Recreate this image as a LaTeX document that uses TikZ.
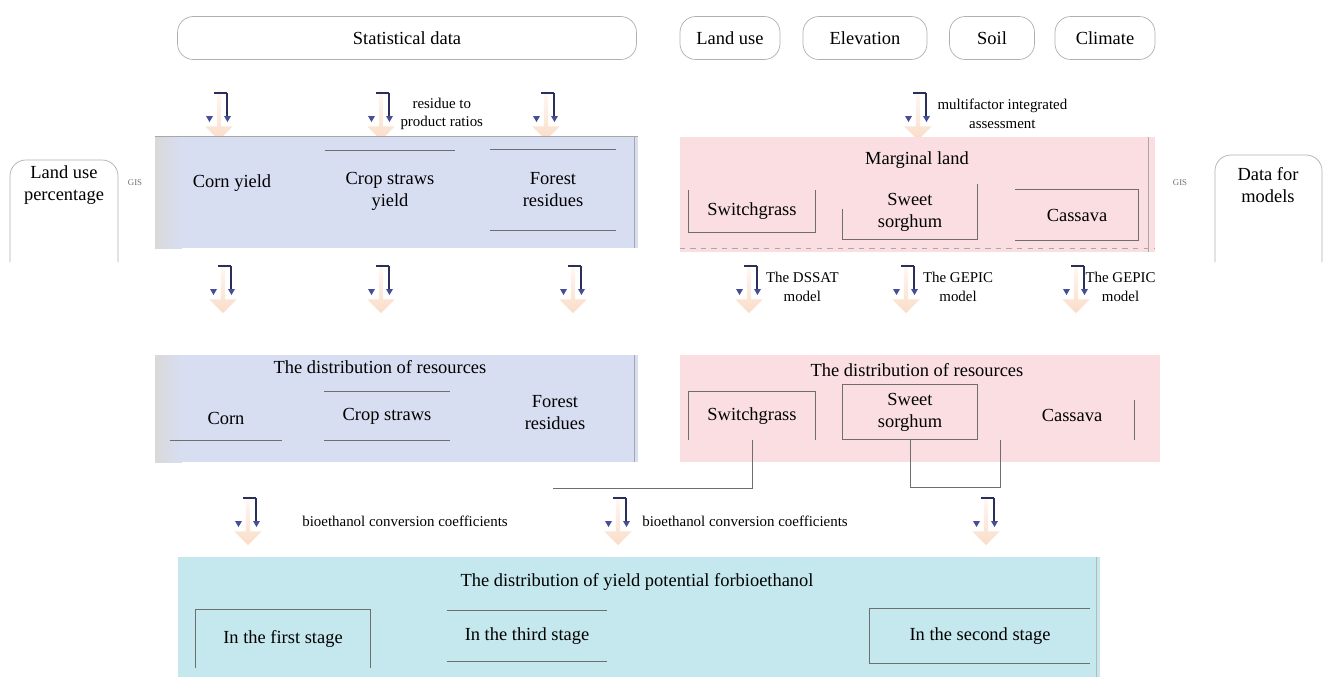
\documentclass[tikz,border=0pt]{standalone}
\usepackage{fontspec}
\setmainfont{Liberation Serif}
\definecolor{lineGray}{RGB}{110,110,110}
\definecolor{paleBlue}{RGB}{216,222,242}
\definecolor{palePink}{RGB}{250,222,226}
\definecolor{paleCyan}{RGB}{196,232,238}
\definecolor{peach}{RGB}{248,205,175}
\definecolor{markBlue}{RGB}{70,78,150}
\usetikzlibrary{shapes,arrows,positioning}

\begin{document}
\begin{tikzpicture}[
  x=0.02cm, y=-0.02cm,
  src/.style={
    draw=lineGray!55, rounded corners=9pt, minimum height=0.86cm,
    font=\fontsize{10.5}{12}\selectfont, inner sep=2pt
  },
  panel/.style={draw=none, inner sep=0pt},
  item/.style={align=center, font=\fontsize{10.5}{12.5}\selectfont, inner sep=2pt},
  note/.style={align=center, font=\fontsize{8.5}{10.5}\selectfont, inner sep=1pt},
  gis/.style={font=\fontsize{5}{6}\selectfont, text=lineGray},
  edge/.style={draw=lineGray, line width=0.5pt},
  flow/.style={
    single arrow, shape border rotate=270, draw=none, inner sep=0pt,
    minimum width=0.55cm, minimum height=1.0cm, single arrow head extend=0.04cm,
    top color=peach!10, bottom color=peach!70
  },
  flowdown/.pic={
    \node[flow] (-glyph) at (1,4) {};
    \draw[line width=1.3pt, markBlue!60!black] (-4,-17) -- (9,-17);
    \draw[line width=0.6pt, markBlue!60!black] (9,-17) -- (9,8);
    \fill[markBlue] (-12,6) -- (-5,6) -- (-8.5,12) -- cycle;
    \fill[markBlue] (6,6) -- (13,6) -- (9.5,12) -- cycle;
  }
]
  \useasboundingbox (0,0) rectangle (1326,677);

  % sources
  \node[src, minimum width=9.18cm] (stat) at (407,38) {Statistical data};
  \node[src, minimum width=2.0cm] (landuse) at (730,38) {Land use};
  \node[src, minimum width=2.48cm] (elev) at (865,38) {Elevation};
  \node[src, minimum width=1.7cm] (soil) at (992,38) {Soil};
  \node[src, minimum width=2.0cm] (climate) at (1105,38) {Climate};

  \draw[draw=lineGray!55, rounded corners=9pt] (10,262) -- (10,160) -- (118,160) -- (118,262);
  \node[item] (lup) at (64,185) {Land use\\percentage};
  \node[gis] (gisL) at (135,183) {GIS};
  \draw[draw=lineGray!55, rounded corners=9pt] (1215,262) -- (1215,155) -- (1322,155) -- (1322,262);
  \node[item] (dfm) at (1268,185) {Data for\\models};
  \node[gis] (gisR) at (1180,183) {GIS};

  % first arrows
  \pic (r1a) at (218,110) {flowdown};
  \pic (r1b) at (380,110) {flowdown};
  \pic (r1c) at (545,110) {flowdown};
  \pic (r1d) at (917,110) {flowdown};
  \node[note, right=0.3cm of r1b-glyph] (rtp) {residue to\\product ratios};
  \node[note, right=0.3cm of r1d-glyph] (mia) {multifactor integrated\\assessment};

  % yields
  \node[panel, fill=paleBlue, minimum width=9.66cm, minimum height=2.22cm] (yieldL) at (396.5,192.5) {};
  \shade[left color=gray!30, right color=paleBlue] (155,137) rectangle (182,248);
  \draw[edge, lineGray!60] (yieldL.north west) -- (yieldL.north east);
  \draw[edge, lineGray!60] ([xshift=-2pt]yieldL.north east) -- ([xshift=-2pt]yieldL.south east);
  \node[item] (cornY) at (232,183) {Corn yield};
  \node[item, minimum width=2.6cm, minimum height=1.6cm] (strawY) at (390,191) {Crop straws\\yield};
  \node[item, minimum width=2.5cm, minimum height=1.6cm] (forestY) at (553,190) {Forest\\residues};
  \draw[edge] (strawY.north west) -- (strawY.north east);
  \draw[edge] (forestY.north west) -- (forestY.north east);
  \draw[edge] (forestY.south west) -- (forestY.south east);

  \node[panel, fill=palePink, minimum width=9.5cm, minimum height=2.3cm] (marginal) at (917.5,194.5) {};
  \node[item] (mland) at (917,160) {Marginal land};
  \node[item, minimum width=2.54cm, minimum height=0.84cm] (switch1) at (752,211) {Switchgrass};
  \node[item, minimum width=2.7cm, minimum height=1.1cm] (sorghum1) at (910,212) {Sweet\\sorghum};
  \node[item, minimum width=2.46cm, minimum height=1.0cm] (cassava1) at (1077,215) {Cassava};
  \draw[edge] (switch1.north west) -- (switch1.south west) -- (switch1.south east) -- (switch1.north east);
  \draw[edge] ([yshift=-14pt]sorghum1.north west) -- (sorghum1.south west) -- (sorghum1.south east) -- (sorghum1.north east);
  \draw[edge] (cassava1.north west) -- (cassava1.north east) -- (cassava1.south east) -- (cassava1.south west);
  \draw[edge, lineGray!60] ([xshift=-4pt]marginal.north east) -- ([xshift=-4pt]marginal.south east);
  \draw[edge, lineGray!60, dashed] ([yshift=2pt]marginal.south west) -- ([yshift=2pt]marginal.south east);

  % second arrows
  \pic (r2a) at (222,283) {flowdown};
  \pic (r2b) at (380,283) {flowdown};
  \pic (r2c) at (572,283) {flowdown};
  \pic (r2d) at (748,283) {flowdown};
  \pic (r2e) at (905,283) {flowdown};
  \pic (r2f) at (1075,283) {flowdown};
  \node[note, right=0.25cm of r2d-glyph] (dssat) {The DSSAT\\model};
  \node[note, right=0.25cm of r2e-glyph] (gepicA) {The GEPIC\\model};
  \node[note, right=0.1cm of r2f-glyph] (gepicB) {The GEPIC\\model};

  % distribution of resources
  \node[panel, fill=paleBlue, minimum width=9.66cm, minimum height=2.14cm] (resL) at (396.5,408.5) {};
  \shade[left color=gray!30, right color=paleBlue] (155,355) rectangle (182,462);
  \draw[edge, lineGray!60] ([xshift=-2pt]resL.north east) -- ([xshift=-2pt]resL.south east);
  \node[item] (resLt) at (380,367) {The distribution of resources};
  \node[item, minimum width=2.24cm, minimum height=0.9cm] (corn2) at (226,418) {Corn};
  \node[item, minimum width=2.5cm, minimum height=0.96cm] (straws2) at (387,416) {Crop straws};
  \node[item] (forest2) at (555,413) {Forest\\residues};
  \draw[edge] (corn2.south west) -- (corn2.south east);
  \draw[edge] (straws2.north west) -- (straws2.north east);
  \draw[edge] (straws2.south west) -- (straws2.south east);

  \node[panel, fill=palePink, minimum width=9.6cm, minimum height=2.14cm] (resR) at (920,408.5) {};
  \node[item] (resRt) at (917,370) {The distribution of resources};
  \node[item, minimum width=2.54cm, minimum height=0.96cm] (switch2) at (752,416) {Switchgrass};
  \node[item, minimum width=2.7cm, minimum height=1.1cm] (sorghum2) at (910,412) {Sweet\\sorghum};
  \node[item, minimum width=2.5cm, minimum height=1.0cm] (cassava2) at (1072,415) {Cassava};
  \draw[edge] (switch2.south west) -- (switch2.north west) -- (switch2.north east) -- (switch2.south east);
  \draw[edge] (sorghum2.south west) -- (sorghum2.north west) -- (sorghum2.north east) -- (sorghum2.south east);
  \draw[edge] (sorghum2.south west) -- (sorghum2.south east);
  \draw[edge] ([yshift=-6pt]cassava2.north east) -- (cassava2.south east);

  % joins
  \coordinate (joinL) at (553,488);
  \coordinate (joinR) at (1000,440);
  \draw[edge] (switch2.south) |- (joinL);
  \draw[edge] (sorghum2.south) -- ++(0,48) -| (joinR);

  % third arrows
  \pic (r3a) at (247,515) {flowdown};
  \pic (r3b) at (617,515) {flowdown};
  \pic (r3c) at (985,515) {flowdown};
  \node[note] (bccA) at (405,521) {bioethanol conversion coefficients};
  \node[note] (bccB) at (745,521) {bioethanol conversion coefficients};

  % bioethanol
  \node[panel, fill=paleCyan, minimum width=18.44cm, minimum height=2.4cm] (bioeth) at (639,617) {};
  \draw[edge, lineGray!50] ([xshift=-2pt]bioeth.north east) -- ([xshift=-2pt]bioeth.south east);
  \node[item] (biot) at (637,582) {The distribution of yield potential forbioethanol};
  \node[item, minimum width=3.5cm, minimum height=1.16cm] (stage1) at (283,639) {In the first stage};
  \node[item, minimum width=3.2cm, minimum height=1.0cm] (stage3) at (527,636) {In the third stage};
  \node[item, minimum width=4.4cm, minimum height=1.1cm] (stage2) at (980,636) {In the second stage};
  \draw[edge] (stage1.south west) -- (stage1.north west) -- (stage1.north east) -- (stage1.south east);
  \draw[edge] (stage3.north west) -- (stage3.north east);
  \draw[edge] (stage3.south west) -- (stage3.south east);
  \draw[edge] (stage2.north east) -- (stage2.north west) -- (stage2.south west) -- (stage2.south east);
\end{tikzpicture}
\end{document}
